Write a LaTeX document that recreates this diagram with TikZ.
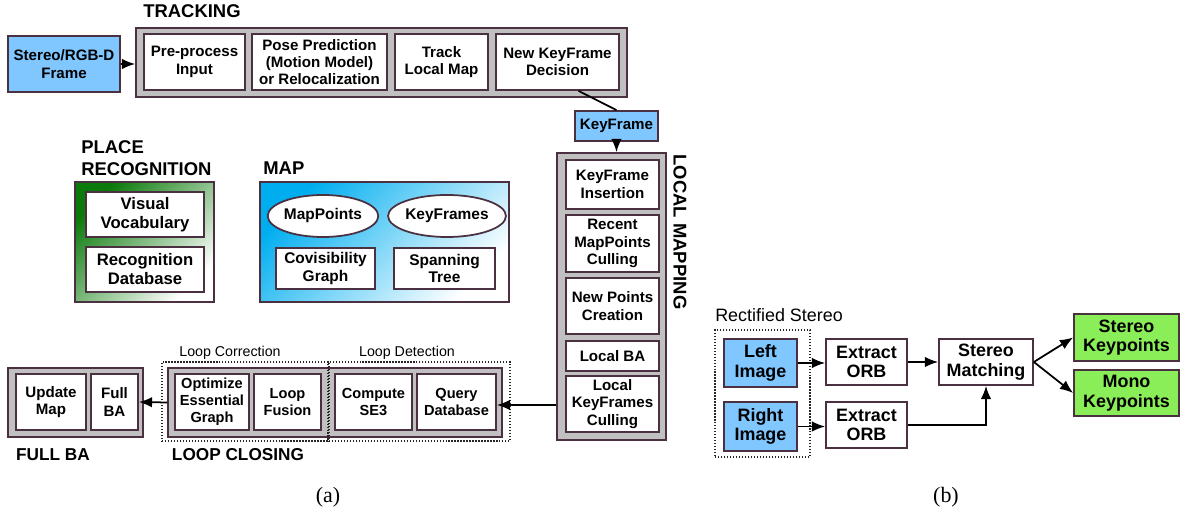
\documentclass[tikz,border=0pt]{standalone}
\usepackage{fontspec}
\setmainfont{Liberation Sans}
\newfontfamily\capfont{Liberation Serif}
\usetikzlibrary{arrows.meta,shapes.geometric}
\definecolor{edgecol}{HTML}{4A3040}
\definecolor{grpgray}{HTML}{C0C0C0}
\definecolor{inblue}{HTML}{80C6FF}
\definecolor{kpgreen}{HTML}{8AEE58}
\definecolor{prgreen}{HTML}{0A7A0A}
\definecolor{mapblue}{HTML}{00AEF0}
\begin{document}
\begin{tikzpicture}[x=0.02cm,y=-0.02cm]
		\tikzset{box/.style = {draw=edgecol, line width=1pt, fill=white, inner sep=0pt, align=center, font=\bfseries\fontsize{8.6}{9.9}\selectfont}}
		\tikzset{group/.style = {draw=edgecol, line width=1pt, fill=grpgray, inner sep=0pt}}
		\tikzset{title/.style = {font=\bfseries\fontsize{10.5}{12.4}\selectfont, align=left, inner sep=0pt}}
		\tikzset{small/.style = {font=\fontsize{8.1}{9.5}\selectfont, inner sep=0pt}}
		\tikzset{bbox/.style = {box, font=\bfseries\fontsize{10.2}{11.2}\selectfont}}
		\tikzset{frame/.style = {draw=black!85, densely dotted, line width=0.7pt, inner sep=0pt}}
		\tikzset{arr/.style = {-{Latex[length=7.5pt,width=6pt]}, line width=1pt}}
		\useasboundingbox (0,0) rectangle (1181,516);
		% tracking
		\node[title] (ttrk) at (192,11) {TRACKING};
		\node[group, minimum width=9.82cm, minimum height=1.38cm] (trk) at (381.5,62.5) {};
		\node[box, minimum width=2.02cm, minimum height=1.12cm] (pre) at (194.5,62) {Pre-process\\Input};
		\node[box, minimum width=2.70cm, minimum height=1.12cm] (pose) at (319.5,62) {Pose Prediction\\(Motion Model)\\or Relocalization};
		\node[box, minimum width=1.86cm, minimum height=1.12cm] (tlm) at (441.5,62) {Track\\Local Map};
		\node[box, minimum width=2.46cm, minimum height=1.12cm] (nkf) at (557.5,62) {New KeyFrame\\Decision};
		\node[box, fill=inblue, minimum width=2.24cm, minimum height=1.12cm] (rgbd) at (64,64) {Stereo/RGB-D\\Frame};
		\node[box, fill=inblue, minimum width=1.66cm, minimum height=0.60cm] (kf) at (616.5,126) {KeyFrame};
		\draw[arr] (rgbd.east) -- (rgbd.east -| trk.west);
		\draw[line width=1pt] (nkf.-54) -- (kf.north);
		% local mapping
		\node[group, minimum width=2.18cm, minimum height=5.74cm] (lm) at (611.5,296.5) {};
		\node[box, minimum width=1.86cm, minimum height=0.98cm] (kfi) at (612.5,184.5) {KeyFrame\\Insertion};
		\node[box, minimum width=1.86cm, minimum height=1.14cm] (rmc) at (612.5,243.5) {Recent\\MapPoints\\Culling};
		\node[box, minimum width=1.86cm, minimum height=1.12cm] (npc) at (612.5,306) {New Points\\Creation};
		\node[box, minimum width=1.86cm, minimum height=0.60cm] (lba) at (612.5,356) {Local BA};
		\node[box, minimum width=1.86cm, minimum height=1.12cm] (lkc) at (612.5,404) {Local\\KeyFrames\\Culling};
		\node[title, rotate=-90] (tlmap) at (680,232) {LOCAL MAPPING};
		\draw[arr] (kf.south) -- (kf.south |- lm.north);
		% place recognition
		\node[title] (tpr) at (81,158) [anchor=west] {PLACE\\RECOGNITION};
		\node[draw=edgecol, line width=1pt, top color=prgreen, bottom color=white, shading angle=45, minimum width=2.78cm, minimum height=2.40cm] (pr) at (144.5,242) {};
		\node[box, font=\bfseries\fontsize{9.5}{10.8}\selectfont, minimum width=2.36cm, minimum height=0.90cm] (voc) at (145,214.5) {Visual\\Vocabulary};
		\node[box, font=\bfseries\fontsize{9.5}{10.8}\selectfont, minimum width=2.36cm, minimum height=0.90cm] (rdb) at (145,269.5) {Recognition\\Database};
		% map
		\node[title, anchor=west] (tmap) at (263,168) {MAP};
		\node[draw=edgecol, line width=1pt, top color=mapblue, bottom color=white, shading angle=45, minimum width=4.98cm, minimum height=2.40cm] (map) at (384.5,242) {};
		\node[box, ellipse, font=\bfseries\fontsize{8.8}{10}\selectfont, minimum width=2.14cm, minimum height=0.84cm] (mp) at (323,216) {MapPoints};
		\node[box, ellipse, font=\bfseries\fontsize{8.8}{10}\selectfont, minimum width=2.16cm, minimum height=0.84cm] (kfs) at (447,216) {KeyFrames};
		\node[box, font=\bfseries\fontsize{8.8}{10}\selectfont, minimum width=1.98cm, minimum height=0.82cm] (cov) at (325.5,268.5) {Covisibility\\Graph};
		\node[box, font=\bfseries\fontsize{8.8}{10}\selectfont, minimum width=2.02cm, minimum height=0.82cm] (spt) at (444.5,268.5) {Spanning\\Tree};
		% full BA
		\node[group, minimum width=2.70cm, minimum height=1.38cm] (fba) at (75.5,402.5) {};
		\node[box, minimum width=1.40cm, minimum height=1.12cm] (upd) at (51,402) {Update\\Map};
		\node[box, minimum width=0.94cm, minimum height=1.12cm] (fbb) at (114.5,402) {Full\\BA};
		\node[title, font=\bfseries\fontsize{9.8}{11}\selectfont] (tfba) at (53,455) {FULL BA};
		% loop closing
		\node[group, minimum width=6.68cm, minimum height=1.38cm] (lcl) at (335,402.5) {};
		\node[frame, minimum width=3.32cm, minimum height=1.58cm] (lcor) at (245,401.5) {};
		\node[frame, minimum width=3.62cm, minimum height=1.58cm] (ldet) at (419.5,401.5) {};
		\node[box, font=\bfseries\fontsize{8.3}{9.6}\selectfont, minimum width=1.48cm, minimum height=1.12cm] (oeg) at (212,402) {Optimize\\Essential\\Graph};
		\node[box, font=\bfseries\fontsize{8.3}{9.6}\selectfont, minimum width=1.34cm, minimum height=1.12cm] (lfu) at (287.5,402) {Loop\\Fusion};
		\node[box, font=\bfseries\fontsize{8.3}{9.6}\selectfont, minimum width=1.54cm, minimum height=1.12cm] (se3) at (373.5,402) {Compute\\SE3};
		\node[box, font=\bfseries\fontsize{8.3}{9.6}\selectfont, minimum width=1.58cm, minimum height=1.12cm] (qdb) at (456.5,402) {Query\\Database};
		\node[small] (tlcor) at (230,353) {Loop Correction};
		\node[small] (tldet) at (407,353) {Loop Detection};
		\node[title, font=\bfseries\fontsize{9.8}{11}\selectfont] (tlcl) at (238,455) {LOOP CLOSING};
		\draw[arr] (lcl.west) -- (fbb.east);
		\draw[arr] (lm.west |- 0,405) -- (qdb.east |- 0,405);
		% stereo pipeline
		\node[small, font=\fontsize{10.2}{12}\selectfont] (trs) at (779,315) {Rectified Stereo};
		\node[frame, minimum width=1.90cm, minimum height=2.54cm] (rs) at (762.5,393.5) {};
		\node[bbox, fill=inblue, minimum width=1.46cm, minimum height=0.96cm] (limg) at (760.5,363) {Left\\Image};
		\node[bbox, fill=inblue, minimum width=1.46cm, minimum height=0.98cm] (rimg) at (760.5,426.5) {Right\\Image};
		\node[bbox, minimum width=1.62cm, minimum height=0.92cm] (orba) at (866.5,362) {Extract\\ORB};
		\node[bbox, minimum width=1.62cm, minimum height=0.92cm] (orbb) at (866.5,425) {Extract\\ORB};
		\node[bbox, minimum width=1.88cm, minimum height=0.92cm] (smat) at (986,362) {Stereo\\Matching};
		\node[bbox, fill=kpgreen, minimum width=2.10cm, minimum height=0.94cm] (skp) at (1126.5,337.5) {Stereo\\Keypoints};
		\node[bbox, fill=kpgreen, minimum width=2.10cm, minimum height=0.92cm] (mkp) at (1126.5,393) {Mono\\Keypoints};
		\draw[arr] (limg.east) -- (limg.east -| orba.west);
		\draw[arr] (rimg.east) -- (rimg.east -| orbb.west);
		\draw[arr] (orba.east) -- (smat.west);
		\draw[arr] (orbb.east) -| (smat.south);
		\draw[arr] (smat.east) -- (skp.west);
		\draw[arr] (smat.east) -- (mkp.west);
		% captions
		\node[font=\capfont\fontsize{12.5}{14}\selectfont] (capa) at (328,497) {(a)};
		\node[font=\capfont\fontsize{12.5}{14}\selectfont] (capb) at (946,497) {(b)};
	\end{tikzpicture}
\end{document}
